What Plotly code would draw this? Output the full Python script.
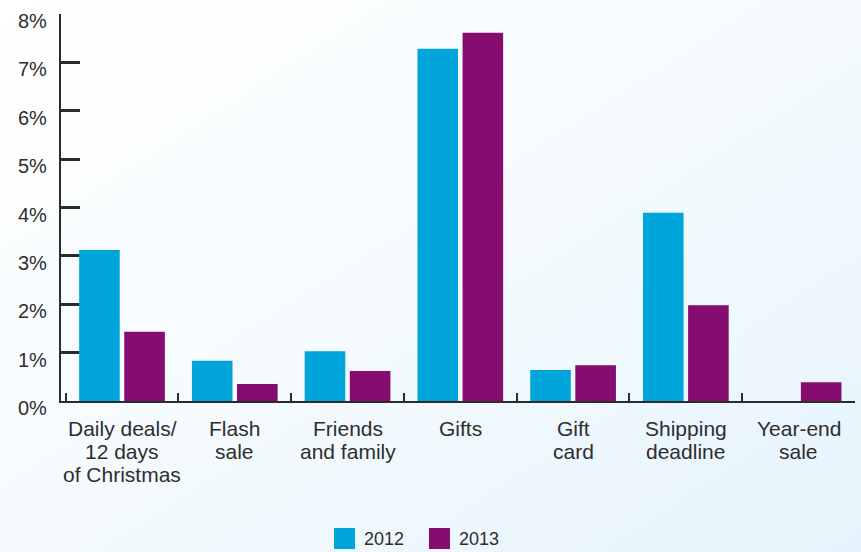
import plotly.graph_objects as go

# Holiday email subject-line themes, share of messages by year
categories = [
    "Daily deals/<br>12 days<br>of Christmas",
    "Flash<br>sale",
    "Friends<br>and family",
    "Gifts",
    "Gift<br>card",
    "Shipping<br>deadline",
    "Year-end<br>sale",
]
series_names = ["2012", "2013"]
values_2012 = [3.12, 0.83, 1.03, 7.28, 0.64, 3.89, 0.0]
values_2013 = [1.43, 0.35, 0.62, 7.61, 0.74, 1.98, 0.39]
y_tick_values = [0, 1, 2, 3, 4, 5, 6, 7, 8]
y_tick_labels = ["0%", "1%", "2%", "3%", "4%", "5%", "6%", "7%", "8%"]

colors = {"2012": "#00a5db", "2013": "#850d6f"}
text_color = "#2e2e2e"
axis_color = "#2b2b2b"
font_family = "Liberation Sans, Arial, sans-serif"

W, H = 861, 552
M = dict(l=61, r=6, t=14, b=151)
PW = W - M["l"] - M["r"]
PH = H - M["t"] - M["b"]


def px_x(x):
    return (x - M["l"]) / PW


def px_y(y):
    return (H - M["b"] - y) / PH


fig = go.Figure()
for name, vals in zip(series_names, [values_2012, values_2013]):
    fig.add_trace(go.Bar(
        x=categories, y=vals, name=name,
        marker=dict(color=colors[name], line=dict(width=0)),
        showlegend=False,
    ))

annotations = []
# y-axis tick labels, set slightly below their tick marks
for v, lab in zip(y_tick_values, y_tick_labels):
    annotations.append(dict(
        x=0, xref="paper", y=v, yref="y", text=lab, showarrow=False,
        xanchor="right", yanchor="middle", xshift=-12, yshift=-7,
        font=dict(size=20, color=text_color, family=font_family),
    ))
# category labels, one annotation per line for tight line spacing
for cat in categories:
    for i, line in enumerate(cat.split("<br>")):
        annotations.append(dict(
            x=cat, xref="x", y=0, yref="y", text=line, showarrow=False,
            xanchor="center", yanchor="middle", yshift=-27 - 23.3 * i,
            font=dict(size=21, color=text_color, family=font_family),
        ))

# legend swatches and labels
legend_left = [334, 429]
shapes = []
for name, left in zip(series_names, legend_left):
    shapes.append(dict(
        type="rect", xref="paper", yref="paper",
        x0=px_x(left), x1=px_x(left + 21), y0=px_y(549), y1=px_y(528),
        fillcolor=colors[name], line=dict(width=0), layer="above",
    ))
    annotations.append(dict(
        x=px_x(left + 28), xref="paper", y=px_y(539), yref="paper",
        text=name, showarrow=False, xanchor="left", yanchor="middle",
        font=dict(size=18, color=text_color, family=font_family),
    ))

fig.update_layout(
    width=W, height=H, margin=M,
    paper_bgcolor="rgba(0,0,0,0)", plot_bgcolor="rgba(0,0,0,0)",
    barmode="group", bargap=0.2, bargroupgap=0.1,
    font=dict(family=font_family, color=text_color),
    annotations=annotations, shapes=shapes,
    xaxis=dict(
        showline=True, linecolor=axis_color, linewidth=2,
        ticks="inside", tickson="boundaries", ticklen=8, tickwidth=2,
        tickcolor=axis_color, showticklabels=False, showgrid=False,
        zeroline=False, fixedrange=True, layer="below traces",
    ),
    yaxis=dict(
        range=[0, 8], tickmode="array", tickvals=y_tick_values,
        showline=True, linecolor=axis_color, linewidth=2,
        ticks="inside", ticklen=19, tickwidth=2.5, tickcolor=axis_color,
        showticklabels=False, showgrid=False, zeroline=False, fixedrange=True,
        layer="below traces",
    ),
)

# soft white-to-pale-blue page background behind the transparent figure
page_background = (
    "document.documentElement.style.background="
    "'linear-gradient(to bottom right, #ffffff 0%, #f6fbfe 45%, #e5f4fc 100%)';"
    "document.documentElement.style.minHeight='100%';"
    "document.body.style.margin='0';"
    "document.body.style.background='transparent';"
)

fig.write_html("out.html", post_script=page_background)
